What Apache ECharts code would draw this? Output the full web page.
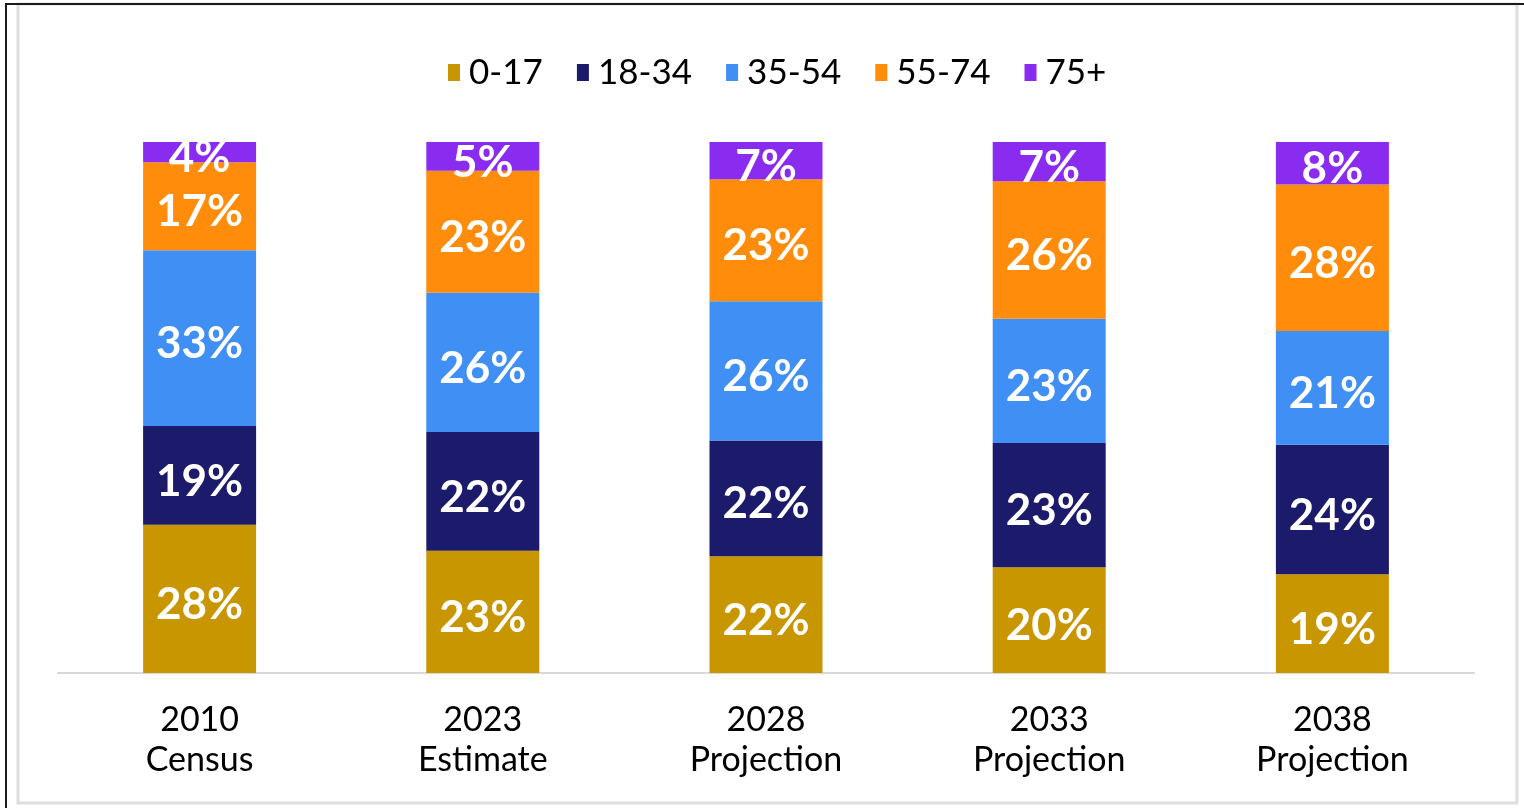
<!DOCTYPE html>
<html>
<head>
<meta charset="utf-8">
<script src="https://cdn.jsdelivr.net/npm/echarts@6/dist/echarts.min.js"></script>
<style>
html,body{margin:0;padding:0;background:#fff;}
#chart{width:1524px;height:808px;}
</style>
</head>
<body>
<div id="chart"></div>
<script>
const categories = ['2010\nCensus', '2023\nEstimate', '2028\nProjection', '2033\nProjection', '2038\nProjection'];
const seriesNames = ['0-17', '18-34', '35-54', '55-74', '75+'];
const age0to17  = [27.9, 23.0, 22.0, 19.9, 18.6];
const age18to34 = [18.6, 22.4, 21.8, 23.4, 24.4];
const age35to54 = [33.1, 26.2, 26.2, 23.4, 21.4];
const age55to74 = [16.6, 23.0, 23.0, 25.9, 27.6];
const age75plus = [3.8, 5.4, 7.0, 7.4, 8.0];
const colors = ['#C89600', '#1B1A6B', '#3F8FF5', '#FF8C0A', '#8A2BF0'];

const values = [age0to17, age18to34, age35to54, age55to74, age75plus];

const chart = echarts.init(document.getElementById('chart'), null, {renderer: 'canvas'});
chart.setOption({
  animation: false,
  color: colors,
  graphic: [
    {type: 'rect', shape: {x: 18, y: 4, width: 1499, height: 799}, style: {fill: 'none', stroke: '#dedede', lineWidth: 3}, silent: true, z: -10},
    {type: 'line', shape: {x1: 5, y1: 4, x2: 1524, y2: 4}, style: {stroke: '#1a1a1a', lineWidth: 2}, silent: true},
    {type: 'line', shape: {x1: 6, y1: 4, x2: 6, y2: 808}, style: {stroke: '#1a1a1a', lineWidth: 2}, silent: true}
  ],
  legend: {
    data: seriesNames,
    left: 443,
    top: 50,
    icon: 'rect',
    itemWidth: 12,
    itemHeight: 17,
    itemGap: 34,
    textStyle: {fontFamily: 'Lato', fontSize: 35, color: '#000', padding: [0, 0, 0, 4]}
  },
  grid: {left: 58, right: 50, top: 142, bottom: 135, containLabel: false},
  xAxis: {
    type: 'category',
    data: categories,
    axisLine: {lineStyle: {color: '#d9d9d9', width: 2}},
    axisTick: {show: false},
    axisLabel: {fontFamily: 'Lato', fontSize: 34, color: '#000', lineHeight: 40, margin: 27}
  },
  yAxis: {type: 'value', min: 0, max: 100, show: false, splitLine: {show: false}},
  series: seriesNames.map((name, i) => ({
    name: name,
    type: 'bar',
    stack: 'total',
    barWidth: 113,
    data: values[i],
    label: {
      show: true,
      position: 'inside',
      offset: [0, 6],
      color: '#fff',
      fontFamily: 'Lato',
      fontWeight: 'bold',
      fontSize: 44,
      formatter: p => Math.round(p.value) + '%'
    }
  }))
});
</script>
</body>
</html>
